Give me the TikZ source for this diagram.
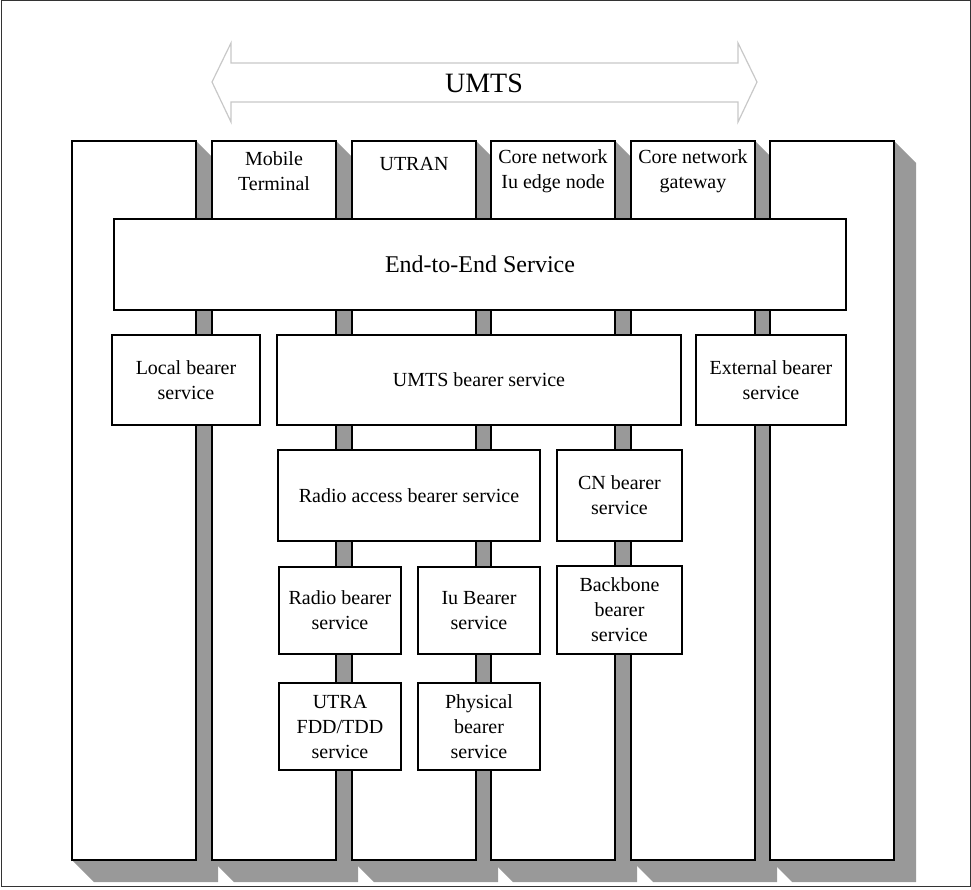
\documentclass[tikz,border=0pt]{standalone}
\usepackage{fontspec}
\setmainfont{Liberation Serif}
\definecolor{shadowgray}{RGB}{153,153,153}
\definecolor{arrowgray}{RGB}{200,200,200}
\tikzset{
  colbox/.style={draw=black, line width=1.3pt, fill=white, anchor=north west,
    minimum width=124pt, minimum height=719pt, inner sep=0pt, outer sep=0pt},
  svcbox/.style={draw=black, line width=1.3pt, fill=white, anchor=north west,
    align=center, inner sep=0pt, outer sep=0pt, font=\fontsize{20}{25}\selectfont},
  collabel/.style={align=center, inner sep=0pt, font=\fontsize{20}{25}\selectfont},
}
\begin{document}
\begin{tikzpicture}[x=1pt,y=-1pt]
\useasboundingbox (0,0) rectangle (971,890);
\draw[line width=1pt, black!80] (1,1) rectangle (970,886);

% UMTS double arrow
\draw[arrowgray, line width=1.2pt, line join=miter]
  (212,82) -- (231,43) -- (231,63) -- (738,63) -- (738,43) -- (757,82)
  -- (738,122) -- (738,102) -- (231,102) -- (231,122) -- cycle;
\node[inner sep=0pt, font=\fontsize{28}{30}\selectfont] (umts) at (484,83) {UMTS};

% columns: shadows first, then columns
\foreach \i/\x in {1/72,2/212,3/352,4/491,5/631,6/770} {
  \coordinate (cnw\i) at (\x,141);
  \fill[shadowgray] (\x+124,141) -- ++(22,22) -- (\x+146,882) -- (\x+22,882) -- (\x,860) -- cycle;
}
\foreach \i/\x in {1/72,2/212,3/352,4/491,5/631,6/770} {
  \node[colbox] (c\i) at (cnw\i) {};
}

% column labels
\node[collabel] (l2) at (274,171) {Mobile\\Terminal};
\node[collabel] (l3) at (414,164) {UTRAN};
\node[collabel] (l4) at (553,171) {Core network\\Iu edge node};
\node[collabel] (l5) at (693,171) {Core network\\gateway};

% service boxes
\node[svcbox, minimum width=732pt, minimum height=91pt, font=\fontsize{24}{28}\selectfont] (e2e) at (114,219) {End-to-End Service};
\node[svcbox, minimum width=148pt, minimum height=90pt] (local) at (112,335) {Local bearer\\service};
\node[svcbox, minimum width=404pt, minimum height=90pt] (umtsb) at (277,335) {UMTS bearer service};
\node[svcbox, minimum width=150pt, minimum height=90pt] (ext) at (696,335) {External bearer\\service};
\node[svcbox, minimum width=262pt, minimum height=91pt] (rab) at (278,450) {Radio access bearer service};
\node[svcbox, minimum width=125pt, minimum height=91pt] (cn) at (557,450) {CN bearer\\service};
\node[svcbox, minimum width=122pt, minimum height=87pt] (rb) at (279,567) {Radio bearer\\service};
\node[svcbox, minimum width=122pt, minimum height=87pt] (iu) at (418,567) {Iu Bearer\\service};
\node[svcbox, minimum width=125pt, minimum height=88pt] (bb) at (557,566) {Backbone\\bearer\\service};
\node[svcbox, minimum width=122pt, minimum height=87pt] (utra) at (279,683) {UTRA\\FDD/TDD\\service};
\node[svcbox, minimum width=122pt, minimum height=87pt] (phys) at (418,683) {Physical\\bearer\\service};
\end{tikzpicture}
\end{document}
